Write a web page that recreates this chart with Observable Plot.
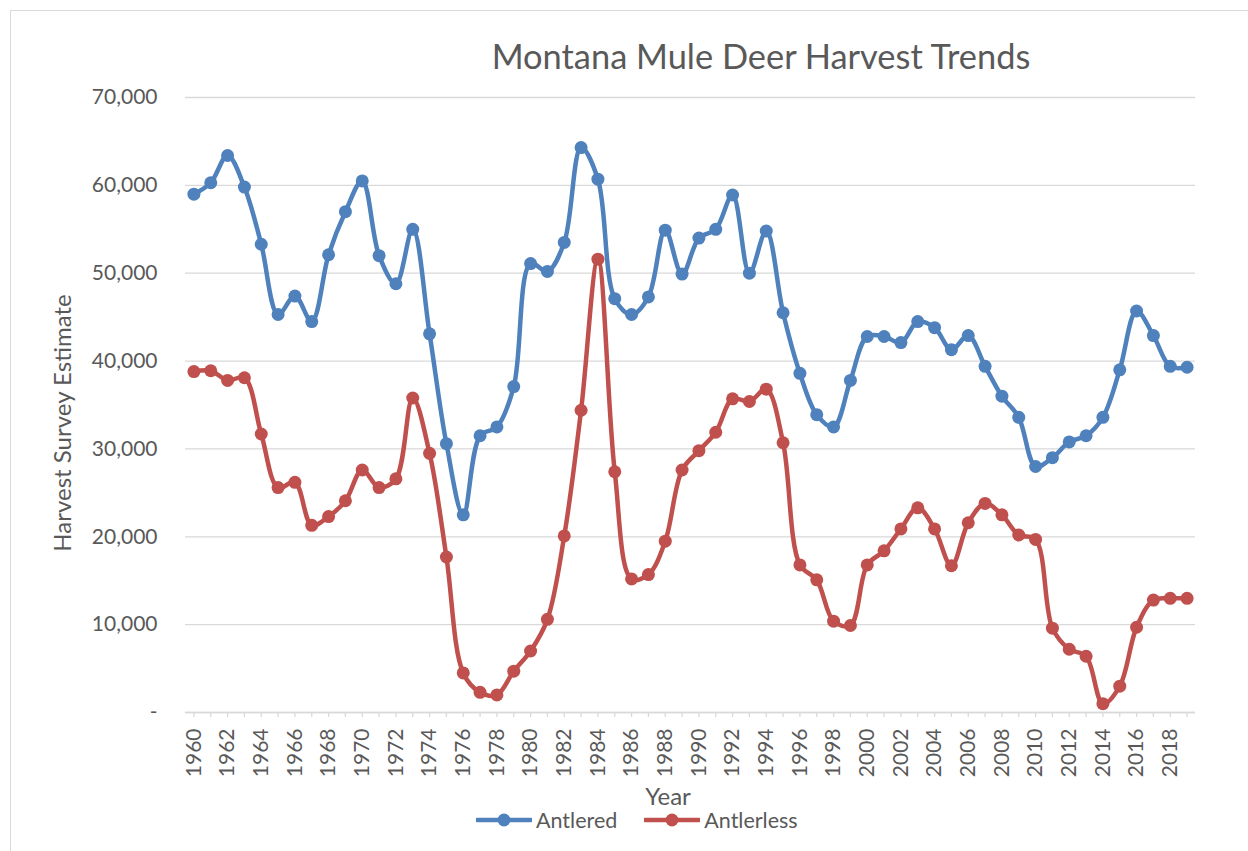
<!DOCTYPE html>
<html>
<head>
<meta charset="utf-8">
<script src="https://cdn.jsdelivr.net/npm/d3@7"></script>
<script src="https://cdn.jsdelivr.net/npm/@observablehq/plot@0.6"></script>
<style>
  html, body { margin: 0; padding: 0; background: #fff; }
  #wrap { position: relative; width: 1248px; height: 851px; overflow: hidden; background: #fff; font-family: Lato, "Open Sans", sans-serif; color: #595959; }
  #frame { position: absolute; left: 10px; top: 10px; width: 1300px; height: 900px; border-left: 1.5px solid #d9d9d9; border-top: 1.5px solid #d9d9d9; }
  #chart { position: absolute; left: 0; top: 0; }
  .lbl { position: absolute; white-space: nowrap; line-height: 1; }
  #title { left: 761px; top: 39px; font-size: 34.4px; transform: translateX(-50%); }
  #ytitle { left: 62px; top: 423px; font-size: 24px; transform: translate(-50%, -50%) rotate(-90deg); }
  #xtitle { left: 668px; top: 784px; font-size: 24px; transform: translateX(-50%); }
  #legend { position: absolute; left: 476px; top: 808px; display: flex; align-items: center; font-size: 21.5px; line-height: 24px; }
  #legend .item { display: flex; align-items: center; margin-right: 27px; }
  #legend svg { margin-right: 4px; }
</style>
</head>
<body>
<div id="wrap">
  <div id="frame"></div>
  <div id="chart"></div>
  <div class="lbl" id="title">Montana Mule Deer Harvest Trends</div>
  <div class="lbl" id="ytitle">Harvest Survey Estimate</div>
  <div class="lbl" id="xtitle">Year</div>
  <div id="legend"></div>
</div>
<script>
// ---- data ----
const years = [1960,1961,1962,1963,1964,1965,1966,1967,1968,1969,
  1970,1971,1972,1973,1974,1975,1976,1977,1978,1979,
  1980,1981,1982,1983,1984,1985,1986,1987,1988,1989,
  1990,1991,1992,1993,1994,1995,1996,1997,1998,1999,
  2000,2001,2002,2003,2004,2005,2006,2007,2008,2009,
  2010,2011,2012,2013,2014,2015,2016,2017,2018,2019];

const antlered = [59000,60300,63400,59800,53300,45300,47400,44500,52100,57000,
  60500,52000,48800,55000,43100,30600,22500,31500,32500,37100,
  51100,50200,53500,64300,60700,47100,45300,47300,54900,49900,
  54000,55000,58900,50000,54800,45500,38600,33900,32500,37800,
  42800,42800,42100,44500,43800,41300,42900,39400,36000,33600,
  28000,29000,30800,31500,33600,39000,45700,42900,39400,39300];

const antlerless = [38800,38900,37800,38100,31700,25600,26200,21300,22300,24100,
  27600,25600,26600,35800,29500,17700,4500,2300,2000,4700,
  7000,10600,20100,34400,51600,27400,15200,15700,19500,27600,
  29800,31900,35700,35400,36800,30700,16800,15100,10400,9900,
  16800,18400,20900,23300,20900,16700,21600,23800,22500,20200,
  19700,9600,7200,6400,1000,3000,9700,12800,13000,13000];

const seriesNames = ["Antlered", "Antlerless"];
const seriesColors = ["#4F81BD", "#C0504D"];
const yTicks = [0,10000,20000,30000,40000,50000,60000,70000];
const xLabelYears = [1960,1962,1964,1966,1968,1970,1972,1974,1976,1978,1980,1982,1984,1986,1988,1990,1992,1994,1996,1998,2000,2002,2004,2006,2008,2010,2012,2014,2016,2018];

// ---- table built from arrays ----
const rows = [];
years.forEach((yr, i) => {
  rows.push({year: yr, value: antlered[i], series: seriesNames[0]});
  rows.push({year: yr, value: antlerless[i], series: seriesNames[1]});
});

const grid = "#d9d9d9";
const ink = "#595959";

const chart = Plot.plot({
  width: 1248,
  height: 851,
  marginLeft: 185,
  marginRight: 53,
  marginTop: 97,
  marginBottom: 139,
  style: {fontFamily: "Lato, 'Open Sans', sans-serif", background: "transparent", color: ink},
  x: {domain: [1959.5, 2019.5]},
  y: {domain: [0, 70000]},
  color: {domain: seriesNames, range: seriesColors},
  marks: [
    Plot.gridY(yTicks, {stroke: grid, strokeOpacity: 1, strokeWidth: 1.3}),
    Plot.ruleY([0], {stroke: grid, strokeWidth: 1.5}),
    Plot.axisY({ticks: yTicks, tickSize: 0, tickPadding: 28, fontSize: 21, fill: ink, label: null,
      tickFormat: d => d === 0 ? "-" : d3.format(",")(d)}),
    Plot.axisX({ticks: years, tickSize: 5, stroke: grid, strokeWidth: 1.3, fill: "none", label: null}),
    Plot.axisX({ticks: xLabelYears, tickSize: 0, stroke: "none", tickPadding: 16, tickRotate: -90, fontSize: 21, fill: ink, label: null,
      tickFormat: d => String(d)}),
    Plot.line(rows, {x: "year", y: "value", stroke: "series", z: "series", strokeWidth: 4.5, curve: "catmull-rom"}),
    Plot.dot(rows, {x: "year", y: "value", fill: "series", r: 6.5, stroke: "none"})
  ]
});
document.getElementById("chart").appendChild(chart);

// ---- legend ----
const legend = document.getElementById("legend");
seriesNames.forEach((name, i) => {
  const item = document.createElement("div");
  item.className = "item";
  item.innerHTML = `<svg width="56" height="16"><line x1="1" x2="55" y1="8" y2="8" stroke="${seriesColors[i]}" stroke-width="4.5" stroke-linecap="round"/><circle cx="28" cy="8" r="6.5" fill="${seriesColors[i]}"/></svg><span>${name}</span>`;
  legend.appendChild(item);
});
</script>
</body>
</html>
